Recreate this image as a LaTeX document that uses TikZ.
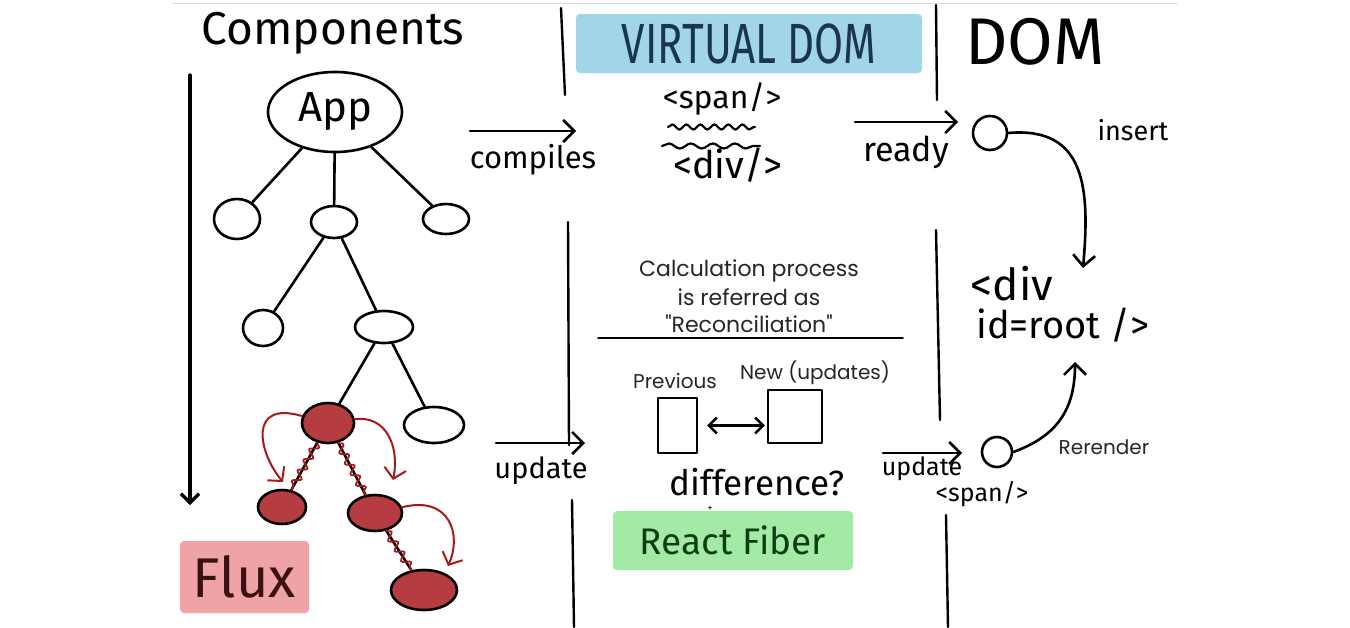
\documentclass[tikz,border=0pt]{standalone}
\usepackage{fontspec}
\usepackage{graphicx}
\setmainfont{Fira Sans}
\newfontfamily\printfont{Poppins}
\usetikzlibrary{shapes.geometric,arrows.meta,decorations.pathmorphing,calc}
\newcommand\fsz[1]{\fontsize{#1}{#1}\selectfont}
\definecolor{vblue}{HTML}{A3D5EA}
\definecolor{vtext}{HTML}{1A3550}
\definecolor{fpink}{HTML}{F0A3A6}
\definecolor{ftext}{HTML}{3A1010}
\definecolor{rgreen}{HTML}{A3EBA5}
\definecolor{rtext}{HTML}{0F3D12}
\definecolor{redc}{HTML}{A8191E}
\begin{document}
\begin{tikzpicture}[x=1pt,y=-1pt, line cap=round, line join=round,
  ink/.style={line width=2.6pt, black},
  arr/.style={ink, -{Straight Barb[length=11pt,width=22pt]}},
  redarr/.style={line width=2pt, redc, -{Straight Barb[length=10pt,width=22pt]}},
  hand/.style={inner sep=0pt, text=black},
  prt/.style={inner sep=0pt, text=black!85, font=\printfont\fsz{20}},
  comp/.style={ellipse, draw, line width=2.6pt, inner sep=0pt},
  hot/.style={comp, fill=redc!85},
  zig/.style={redc, line width=1.8pt, decorate, decoration={snake, amplitude=4pt, segment length=12pt}},
  divider/.style={ink, line width=2.4pt},
  tagbox/.style={rounded corners=4pt, inner sep=0pt}
]
\useasboundingbox (0,0) rectangle (1350,627);
\fill[white] (0,0) rectangle (1350,627);
\draw[black!15, line width=1pt] (173,3) -- (1177,3);

% headings
\node[hand, font=\fsz{46}] (comp) at (333,33) {Components};
\node[tagbox, fill=vblue, minimum width=346, minimum height=59] (vdom) at (749,43.5) {};
\node[hand, text=vtext, font=\fsz{42}] (vdomtxt) at (vdom) {\scalebox{1}[1.35]{VIRTUAL DOM}};
\node[hand, font=\fsz{66}] (dom) at (1035,42) {DOM};

% dividers
\draw[divider] (561,8) -- (565,95);
\draw[divider] (568,222) -- (569,445);
\draw[divider] (572,500) -- (574,627);
\draw[divider] (936,5) -- (937,100);
\draw[divider] (936,230) -- (940,420);
\draw[divider] (946,515) -- (948,627);

% time arrow
\coordinate (tstart) at (190,75);
\coordinate (tend) at (190,505);
\draw[ink, line width=3.2pt, -{Straight Barb[length=9pt,width=18pt]}] (tstart) -- (tend);

% tree
\node[comp, minimum width=134, minimum height=80, font=\fsz{42}] (app) at (335,112) {App};
\node[comp, minimum width=46, minimum height=40] (c1) at (237,219) {};
\node[comp, minimum width=46, minimum height=32] (c2) at (334,222) {};
\node[comp, minimum width=46, minimum height=30] (c3) at (446,219) {};
\node[comp, minimum width=40, minimum height=36] (d1) at (263,328) {};
\node[comp, minimum width=58, minimum height=32] (d2) at (384,327) {};
\node[hot, minimum width=52, minimum height=40] (r1) at (328,423) {};
\node[comp, minimum width=60, minimum height=36] (e2) at (434,425) {};
\node[hot, minimum width=48, minimum height=34] (r2) at (282,507) {};
\node[hot, minimum width=54, minimum height=36] (r3) at (375,513) {};
\node[hot, minimum width=66, minimum height=40] (r4) at (424,590) {};

\draw[ink] (app) -- (c1);
\draw[ink] (app) -- (c2);
\draw[ink] (app) -- (c3);
\draw[ink] (c2) -- (d1);
\draw[ink] (c2) -- (d2);
\draw[ink] (d2) -- (r1);
\draw[ink] (d2) -- (e2);
\draw[ink] (r1) -- (r2);
\draw[ink] (r1) -- (r3);
\draw[ink] (r3) -- (r4);
\draw[zig] (r1) -- (r2);
\draw[zig] (r1) -- (r3);
\draw[zig] (r3) -- (r4);

% red traversal arrows
\coordinate (t1) at (283,482);
\coordinate (t2) at (393,480);
\coordinate (t3) at (448,566);
\draw[redarr] (r1.165) .. controls (248,400) and (258,452) .. (t1);
\draw[redarr] (r1.8) .. controls (385,415) and (400,445) .. (t2);
\draw[redarr] (r3.12) .. controls (450,495) and (462,535) .. (t3);

% Flux
\node[tagbox, fill=fpink, minimum width=129, minimum height=72] (flux) at (244.5,577) {};
\node[hand, text=ftext, font=\fsz{56}] (fluxtxt) at (flux) {Flux};

% virtual DOM contents
\node[hand, font=\fsz{32}] (span1) at (722,99) {<span/>};
\coordinate (w1a) at (668,127);
\coordinate (w1b) at (755,127);
\coordinate (w2a) at (662,146);
\coordinate (w2b) at (760,146);
\draw[ink, line width=2.2pt, decorate, decoration={snake, amplitude=2.5pt, segment length=14pt}] (w1a) -- (w1b);
\draw[ink, line width=2.2pt, decorate, decoration={snake, amplitude=2.5pt, segment length=22pt}] (w2a) -- (w2b);
\node[hand, font=\fsz{38}] (div1) at (728,165) {<div/>};

% compiles arrow
\coordinate (ca) at (470,131);
\coordinate (cb) at (576,131);
\draw[arr] (ca) -- (cb);
\node[hand, font=\fsz{31}] (compiles) at (533,160) {compiles};

% ready arrow
\coordinate (ra) at (855,122);
\coordinate (rb) at (958,122);
\draw[arr] (ra) -- (rb);
\node[hand, font=\fsz{34}] (ready) at (906,152) {ready};
\node[circle, draw, line width=2.6pt, minimum size=34, inner sep=0pt] (cready) at (990,133) {};

% DOM root
\node[hand, font=\fsz{44}] (divr) at (1012,284) {<div};
\node[hand, font=\fsz{38}] (root) at (1063,325) {id=root />};
\coordinate (ins) at (1083,268);
\draw[arr] (cready.east) to[out=5, in=85, looseness=1.3] (ins);
\node[hand, font=\fsz{27}] (insert) at (1133,130) {insert};

% reconciliation text
\node[prt, font=\printfont\fsz{22}, align=center] (calc) at (749,296) {Calculation process\\[5pt]is referred as\\[5pt]"Reconciliation"};
\coordinate (ula) at (598,338);
\coordinate (ulb) at (903,338);
\draw[line width=1.8pt] (ula) -- (ulb);
\node[prt] (prev) at (675,381) {Previous};
\node[prt] (newu) at (815,373) {New (updates)};
\draw[line width=2.4pt] (658,398) rectangle (697,453);
\node[minimum width=39, minimum height=55, inner sep=0pt] (pbox) at (677.5,425.5) {};
\draw[line width=2.4pt] (768,390) rectangle (822,443);
\node[minimum width=54, minimum height=53, inner sep=0pt] (nbox) at (795,416.5) {};
\draw[line width=2.4pt, {Straight Barb[length=8pt,width=16pt]}-{Straight Barb[length=8pt,width=16pt]}, shorten <=10pt, shorten >=3pt] (pbox.east) -- (pbox.east -| nbox.west);
\node[hand, font=\fsz{35}] (diff) at (757,482) {difference?};
\node[hand, font=\fsz{10}] (cursor) at (710,509) {+};

% React Fiber
\node[tagbox, fill=rgreen, minimum width=240, minimum height=59] (fiber) at (733,540.5) {};
\node[hand, text=rtext, font=\fsz{37}] (fibertxt) at (fiber) {React Fiber};

% update arrows
\coordinate (ua) at (496,443);
\coordinate (ub) at (585,443);
\draw[arr] (ua) -- (ub);
\node[hand, font=\fsz{29}] (upd1) at (541,471) {update};
\coordinate (va) at (883,453);
\coordinate (vb) at (962,453);
\draw[arr] (va) -- (vb);
\node[hand, font=\fsz{25}] (upd2) at (922,469) {update};
\node[hand, font=\fsz{25}] (span2) at (982,494) {<span/>};
\node[circle, draw, line width=2.6pt, minimum size=30, inner sep=0pt] (cspan) at (997,452) {};
\coordinate (rr) at (1075,362);
\draw[arr] (cspan.east) to[out=20, in=-90, looseness=1.1] (rr);
\node[prt] (rerender) at (1104,447) {Rerender};
\end{tikzpicture}
\end{document}
